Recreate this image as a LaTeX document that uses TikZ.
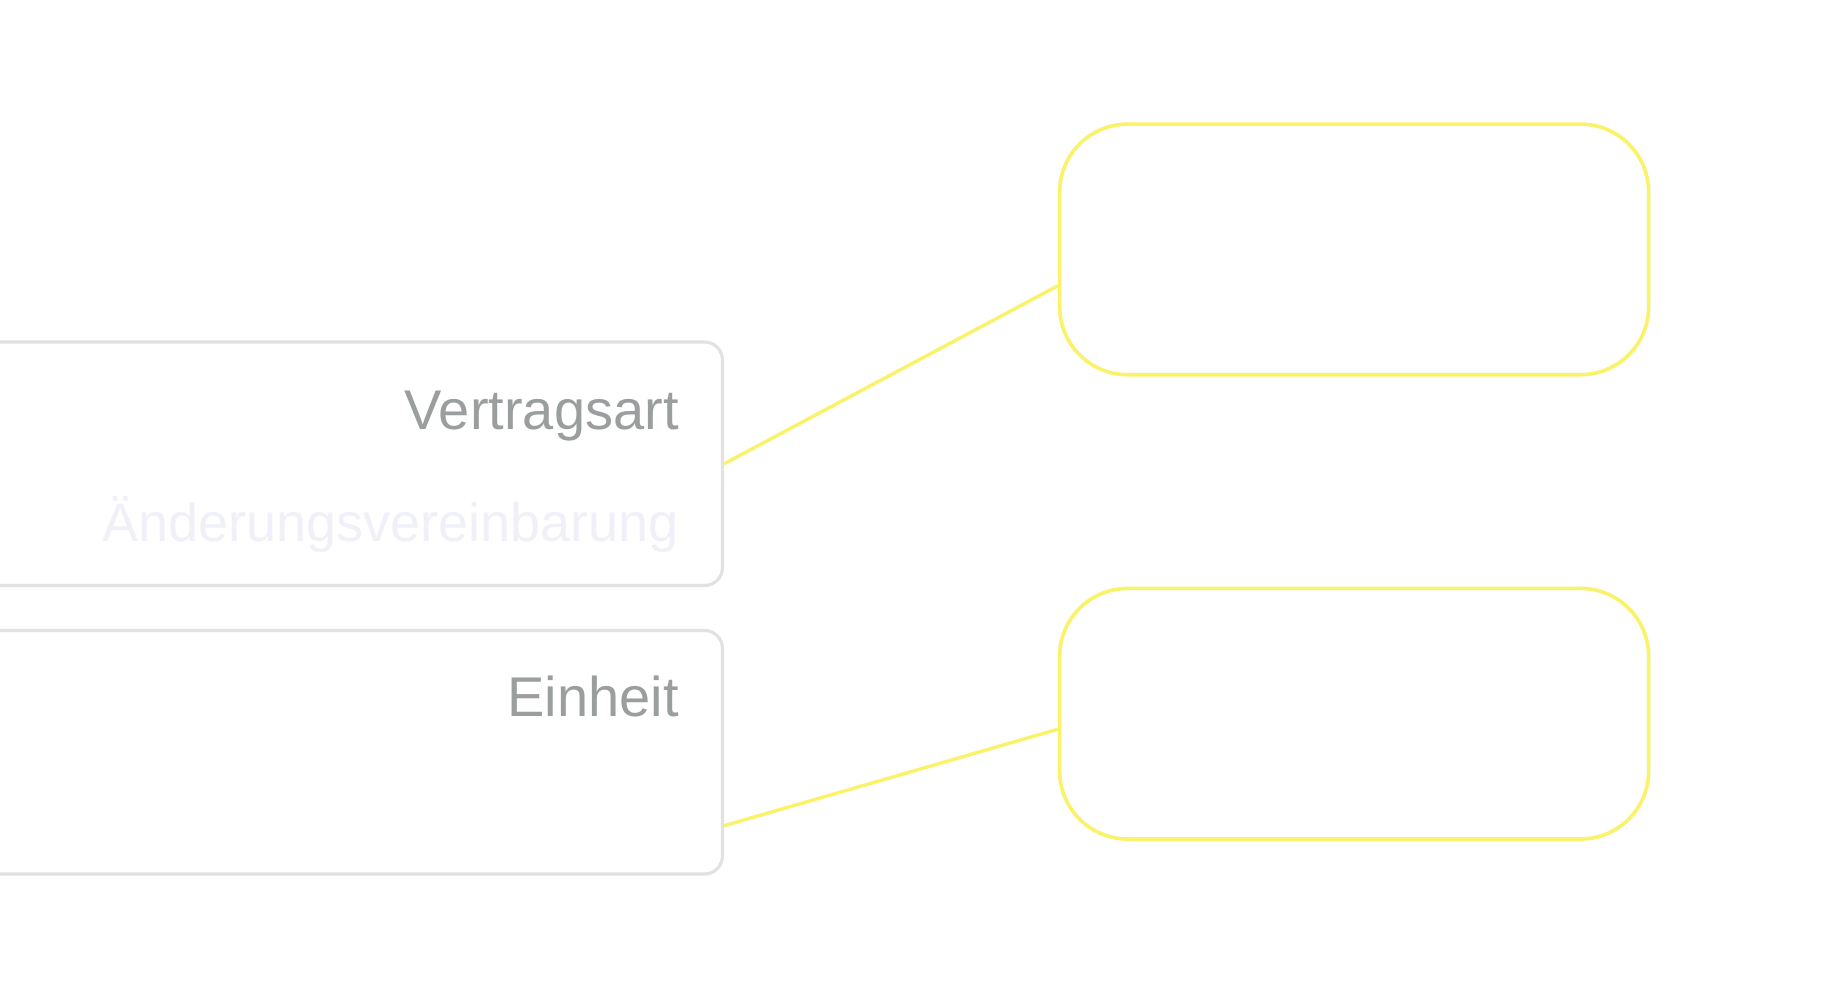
\documentclass[tikz,border=0pt]{standalone}
\usepackage{fontspec}
\setmainfont{Liberation Sans}
\usepackage{xcolor}
\definecolor{fieldborder}{RGB}{226,226,226}
\definecolor{fieldtext}{RGB}{155,158,158}
\definecolor{fainttext}{RGB}{240,240,248}
\definecolor{linkyellow}{RGB}{250,242,105}

\begin{document}
\begin{tikzpicture}[x=0.5pt,y=-0.5pt]
  \tikzset{
    field/.style={
      draw=fieldborder,
      line width=1.6pt,
      rounded corners=9pt,
      minimum width=376.25pt,
      minimum height=121.75pt,
      anchor=center,
      fill=white
    },
    target/.style={
      draw=linkyellow,
      line width=1.8pt,
      rounded corners=34pt,
      minimum width=294.5pt,
      minimum height=125.3pt,
      anchor=center,
      fill=white
    },
    label/.style={
      font=\fontsize{28}{32}\selectfont,
      text=fieldtext,
      anchor=base east,
      inner sep=0pt
    },
    link/.style={
      draw=linkyellow,
      line width=1.7pt
    }
  }

  \useasboundingbox (0,0) rectangle (1836,993);
  \clip (0,0) rectangle (1836,993);

  % Draw the field boxes
    \node[field] at (346.25, 463.75) (lbox1) {};
    \node[label] at (679, 429.7) (vertragsart) {Vertragsart};
    \node[label, text=fainttext, font=\fontsize{27}{31}\selectfont] at (679, 541) (aenderung) {Änderungsvereinbarung};

    \node[field] at (346.25, 752.25) (lbox2) {};
    \node[label] at (679, 716.6) (einheit) {Einheit};

  % Draw the target boxes
    \node[target] at (1354.15, 249.4) (ybox1) {};
    \node[target] at (1354.15, 713.7) (ybox2) {};

  % Connect them
    \draw[link] (lbox1.east) -- (ybox1.187.7);
    \draw[link] (lbox2.349) -- (ybox2.183.5);

\end{tikzpicture}
\end{document}
